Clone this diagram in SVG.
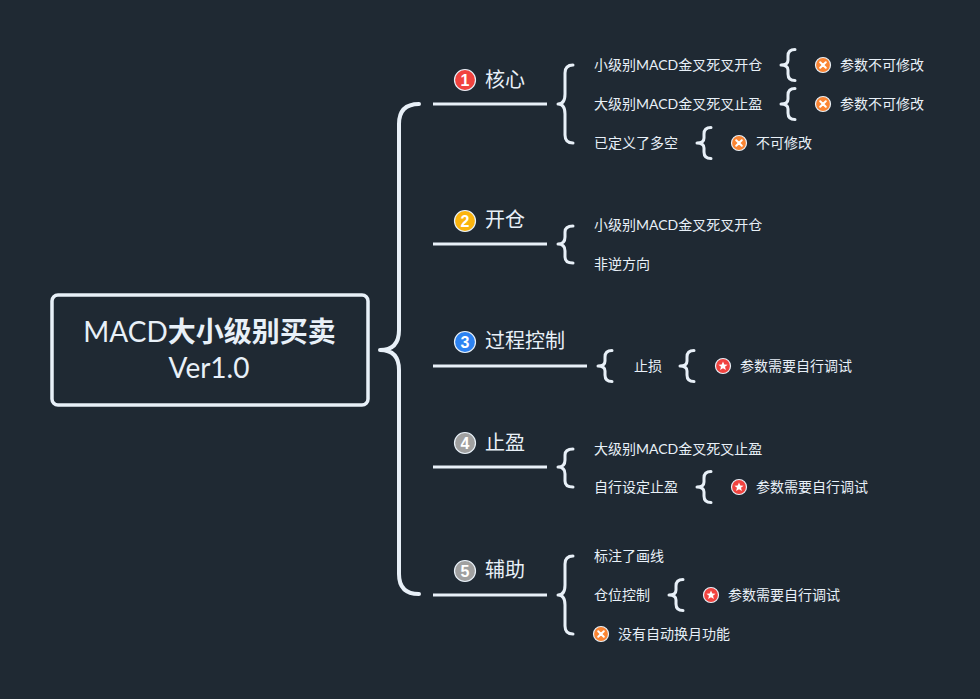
<svg xmlns="http://www.w3.org/2000/svg" width="980" height="699" viewBox="0 0 980 699">
<style>
text{font-family:"Lato","Noto Sans CJK SC","Noto Sans",sans-serif;fill:#e8f0f8}
.t{font-size:20px}
.s{font-size:14px}
.r{font-size:28px;text-anchor:middle}
.c{fill:none;stroke:#e8f0f8;stroke-linecap:round;stroke-linejoin:round}
.b{stroke-width:3}
.m{stroke-width:3;stroke-linecap:butt}
.n{font-size:16px;font-weight:800;text-anchor:middle;font-family:"Liberation Sans",sans-serif;fill:#fff}
.ring{stroke:#e8f0f8;stroke-width:1.2}
</style>
<defs>
<path id="sb" class="c b" d="M14 -15.500 Q7 -15.500 7 -9 V-5 Q7 0 0 0 Q7 0 7 5 V9 Q7 15.500 14 15.500"/>
<g id="x"><circle r="7.500" fill="#fb8533" class="ring"/><path d="M-2.800 -2.800L2.800 2.800M2.800 -2.800L-2.800 2.800" stroke="#fff" stroke-width="2" stroke-linecap="round"/></g>
<g id="star"><circle r="7.500" fill="#f1433f" class="ring"/><polygon fill="#fff" points="0,-4.600 1.300,-1.500 4.600,-1.300 2,0.800 2.900,4 0,2.200 -2.900,4 -2,0.800 -4.600,-1.300 -1.300,-1.500"/></g>
</defs>
<rect width="980" height="699" fill="#1f2933"/>
<g id="connectors">
<path class="c" stroke-width="4" d="M419 104 Q399 104 399 124 V330 Q399 350 380 350 Q399 350 399 370 V574 Q399 594 419 594"/>
<path class="c m" d="M433 104H547M433 244H547M433 366H587M433 467H547M433 595H547"/>
<path class="c b" d="M573 65 Q565 65 565 73 V94 Q565 104 558 104 Q565 104 565 114 V135 Q565 143 573 143"/>
<path class="c b" d="M573 226 Q565 226 565 232 V237 Q565 244 558 244 Q565 244 565 251 V257 Q565 263 573 263"/>
<path class="c b" d="M573 449 Q565 449 565 455 V460 Q565 467 558 467 Q565 467 565 474 V481 Q565 487 573 487"/>
<path class="c b" d="M573 556 Q565 556 565 564 V585 Q565 595 558 595 Q565 595 565 605 V626 Q565 634 573 634"/>
<use href="#sb" x="781" y="65"/><use href="#sb" x="781" y="104"/><use href="#sb" x="697" y="143"/>
<use href="#sb" x="598" y="366"/><use href="#sb" x="680" y="366"/>
<use href="#sb" x="697" y="487"/><use href="#sb" x="669" y="595"/>
</g>
<g id="root">
<rect x="52" y="295" width="316" height="110" rx="6" fill="#1f2933" stroke="#e8f0f8" stroke-width="3.500"/>
<text class="r" x="209.500" y="342">MACD<tspan font-weight="700">大小级别买卖</tspan></text>
<text class="r" x="209" y="378">Ver1.0</text>
</g>
<g id="topic1"><circle cx="465" cy="80" r="10.500" fill="#f1433f" class="ring"/><text class="n" x="465" y="86">1</text><text class="t" x="485" y="87">核心</text></g>
<g id="topic2"><circle cx="465" cy="221" r="10.500" fill="#fbb40e" class="ring"/><text class="n" x="465" y="227">2</text><text class="t" x="485" y="227">开仓</text></g>
<g id="topic3"><circle cx="465" cy="342" r="10.500" fill="#2d83f2" class="ring"/><text class="n" x="465" y="348">3</text><text class="t" x="485" y="348">过程控制</text></g>
<g id="topic4"><circle cx="465" cy="443" r="10.500" fill="#a0a0a0" class="ring"/><text class="n" x="465" y="449">4</text><text class="t" x="485" y="450">止盈</text></g>
<g id="topic5"><circle cx="465" cy="571" r="10.500" fill="#a0a0a0" class="ring"/><text class="n" x="465" y="577">5</text><text class="t" x="485" y="577">辅助</text></g>
<g id="n1a"><text class="s" x="594" y="70">小级别MACD金叉死叉开仓</text></g>
<g id="n1a1"><use href="#x" x="823" y="65"/><text class="s" x="840" y="70">参数不可修改</text></g>
<g id="n1b"><text class="s" x="594" y="109">大级别MACD金叉死叉止盈</text></g>
<g id="n1b1"><use href="#x" x="823" y="104"/><text class="s" x="840" y="109">参数不可修改</text></g>
<g id="n1c"><text class="s" x="594" y="148">已定义了多空</text></g>
<g id="n1c1"><use href="#x" x="739" y="143"/><text class="s" x="756" y="148">不可修改</text></g>
<g id="n2a"><text class="s" x="594" y="230">小级别MACD金叉死叉开仓</text></g>
<g id="n2b"><text class="s" x="594" y="269">非逆方向</text></g>
<g id="n3a"><text class="s" x="634" y="371">止损</text></g>
<g id="n3a1"><use href="#star" x="723" y="366"/><text class="s" x="740" y="371">参数需要自行调试</text></g>
<g id="n4a"><text class="s" x="594" y="454">大级别MACD金叉死叉止盈</text></g>
<g id="n4b"><text class="s" x="594" y="492">自行设定止盈</text></g>
<g id="n4b1"><use href="#star" x="739" y="487"/><text class="s" x="756" y="492">参数需要自行调试</text></g>
<g id="n5a"><text class="s" x="594" y="561">标注了画线</text></g>
<g id="n5b"><text class="s" x="594" y="600">仓位控制</text></g>
<g id="n5b1"><use href="#star" x="711" y="595"/><text class="s" x="728" y="600">参数需要自行调试</text></g>
<g id="n5c"><use href="#x" x="601" y="634"/><text class="s" x="618" y="639">没有自动换月功能</text></g>
</svg>
